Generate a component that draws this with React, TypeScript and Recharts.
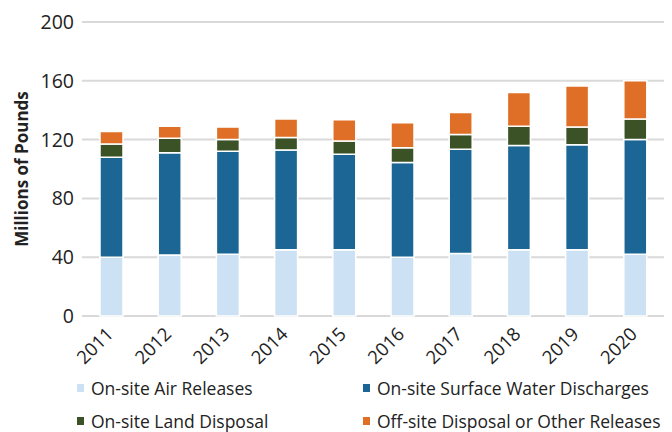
import React from 'react';
import { BarChart, Bar, XAxis, YAxis, CartesianGrid, Legend } from 'recharts';

const years = ['2011', '2012', '2013', '2014', '2015', '2016', '2017', '2018', '2019', '2020'];
const airReleases = [40, 41.5, 42, 45, 45, 40, 42.5, 45, 45, 42];
const waterDischarges = [68, 69.5, 70, 68, 65, 64.5, 71, 71, 71.5, 78];
const landDisposal = [9, 10, 8, 8.5, 9, 10, 10, 13, 12, 14];
const offsiteReleases = [8.5, 8, 8.5, 12.5, 14.5, 17, 15, 23, 28, 26];
const yTicks = [0, 40, 80, 120, 160, 200];

const series = [
  { key: 'air', name: 'On-site Air Releases', color: '#cce2f4' },
  { key: 'water', name: 'On-site Surface Water Discharges', color: '#1b6694' },
  { key: 'land', name: 'On-site Land Disposal', color: '#3b5227' },
  { key: 'offsite', name: 'Off-site Disposal or Other Releases', color: '#df6f26' },
];

const data = years.map((year, i) => ({
  year,
  air: airReleases[i],
  water: waterDischarges[i],
  land: landDisposal[i],
  offsite: offsiteReleases[i],
}));

const FONT = '"Open Sans", "DejaVu Sans", sans-serif';

const renderLegend = () => {
  const cols = [77, 363];
  return (
    <div style={{ position: 'relative', width: 672, height: 60, fontFamily: FONT, fontSize: 17.5, color: '#222' }}>
      {series.map((s, i) => (
        <div
          key={s.key}
          style={{
            position: 'absolute',
            left: cols[i % 2],
            top: Math.floor(i / 2) * 33 - 1,
            height: 33,
            display: 'flex',
            alignItems: 'center',
            whiteSpace: 'nowrap',
          }}
        >
          <span style={{ display: 'inline-block', width: 7, height: 8, background: s.color, marginRight: 7 }} />
          {s.name}
        </div>
      ))}
    </div>
  );
};

export default function App() {
  return (
    <div style={{ position: 'absolute', left: 0, top: 0, width: 672, height: 432, background: '#fff' }}>
      <BarChart width={672} height={432} data={data} margin={{ top: 22, right: 8, bottom: 0, left: 0 }}>
        <CartesianGrid vertical={false} stroke="#d9d9d9" strokeWidth={2} />
        <XAxis
          dataKey="year"
          height={56}
          axisLine={false}
          tickLine={false}
          interval={0}
          angle={-45}
          textAnchor="end"
          dx={-6}
          dy={2}
          tick={{ fontSize: 18.5, fill: '#222', fontFamily: FONT }}
        />
        <YAxis
          width={82}
          domain={[0, 200]}
          ticks={yTicks}
          axisLine={false}
          tickLine={false}
          tick={{ fontSize: 19.5, fill: '#222', fontFamily: FONT }}
          label={{
            value: 'Millions of Pounds',
            angle: -90,
            position: 'insideLeft',
            offset: 22,
            style: { fontSize: 17, fontWeight: 700, fill: '#222', fontFamily: FONT, textAnchor: 'middle' },
          }}
        />
        <Legend verticalAlign="bottom" content={renderLegend} />
        {series.map((s) => (
          <Bar
            key={s.key}
            dataKey={s.key}
            name={s.name}
            stackId="a"
            fill={s.color}
            stroke="#fff"
            strokeWidth={1.5}
            barSize={23}
            isAnimationActive={false}
          />
        ))}
      </BarChart>
    </div>
  );
}
